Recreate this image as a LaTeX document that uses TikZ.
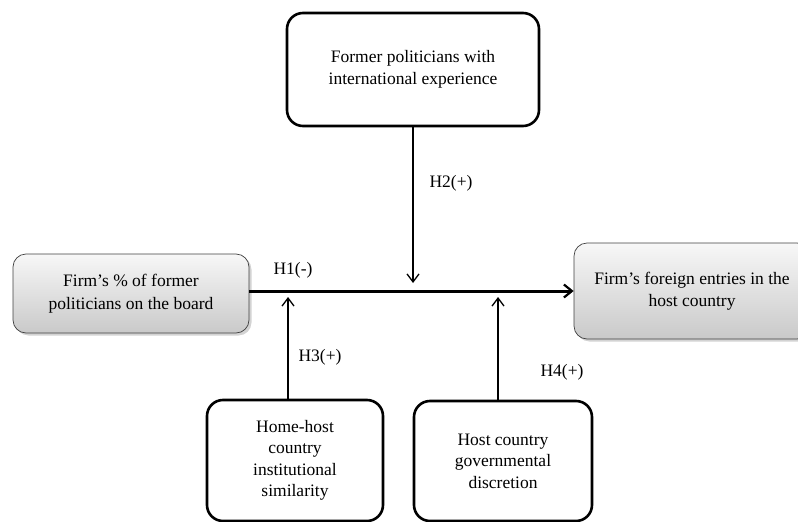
\documentclass[tikz,border=0pt]{standalone}
\usepackage{fontspec}
\setmainfont{Liberation Serif}
\usetikzlibrary{arrows.meta,shadows,positioning}

\tikzset{
    modbox/.style={draw, line width=2.6pt, rounded corners=16pt, align=center,
        font=\fontsize{17.5}{21.5}\selectfont},
    mainbox/.style={draw=black!75, line width=0.7pt, rounded corners=13pt, align=center,
        top color=gray!6, bottom color=gray!42,
        drop shadow={shadow xshift=2.5pt, shadow yshift=-2.5pt, opacity=0.35},
        font=\fontsize{17.5}{22.5}\selectfont},
    hlabel/.style={font=\fontsize{17.5}{21}\selectfont},
    effect/.style={line width=3pt, -{Straight Barb[length=8pt,width=13pt,line width=2.2pt]}},
    moder/.style={line width=1.3pt, -{Straight Barb[length=8pt,width=12pt,line width=1.3pt]}}
}

\begin{document}
\begin{tikzpicture}[x=1pt,y=-1pt]
    \useasboundingbox (0,0) rectangle (798,522);

    % boxes
    \node[modbox, minimum width=252pt, minimum height=113pt] (intl) at (413,69.5)
        {Former politicians with\\international experience};
    \node[mainbox, minimum width=236pt, minimum height=79pt] (firm) at (131,293.5)
        {Firm's \% of former\\politicians on the board};
    \node[mainbox, minimum width=236pt, minimum height=96pt] (entry) at (692,291)
        {Firm's foreign entries in the\\host country};
    \node[modbox, minimum width=176pt, minimum height=121pt] (simil) at (295,460.5)
        {Home-host\\country\\institutional\\similarity};
    \node[modbox, minimum width=178pt, minimum height=120pt] (discr) at (503,461)
        {Host country\\governmental\\discretion};

    % main effect
    \draw[effect] (firm.east |- entry.west) -- (entry.west);
    \node[hlabel] (h1lab) at (293,270) {H1(-)};

    % moderators
    \coordinate (h2) at (413,283);
    \coordinate (h3) at (288,297);
    \coordinate (h4) at (498,297);

    \draw[moder] (intl.south -| h2) -- (h2);
    \node[hlabel] (h2lab) at (451,183) {H2(+)};

    \draw[moder] (simil.north -| h3) -- (h3);
    \node[hlabel] (h3lab) at (320,357) {H3(+)};

    \draw[moder] (discr.north -| h4) -- (h4);
    \node[hlabel] (h4lab) at (562,372) {H4(+)};
\end{tikzpicture}
\end{document}
